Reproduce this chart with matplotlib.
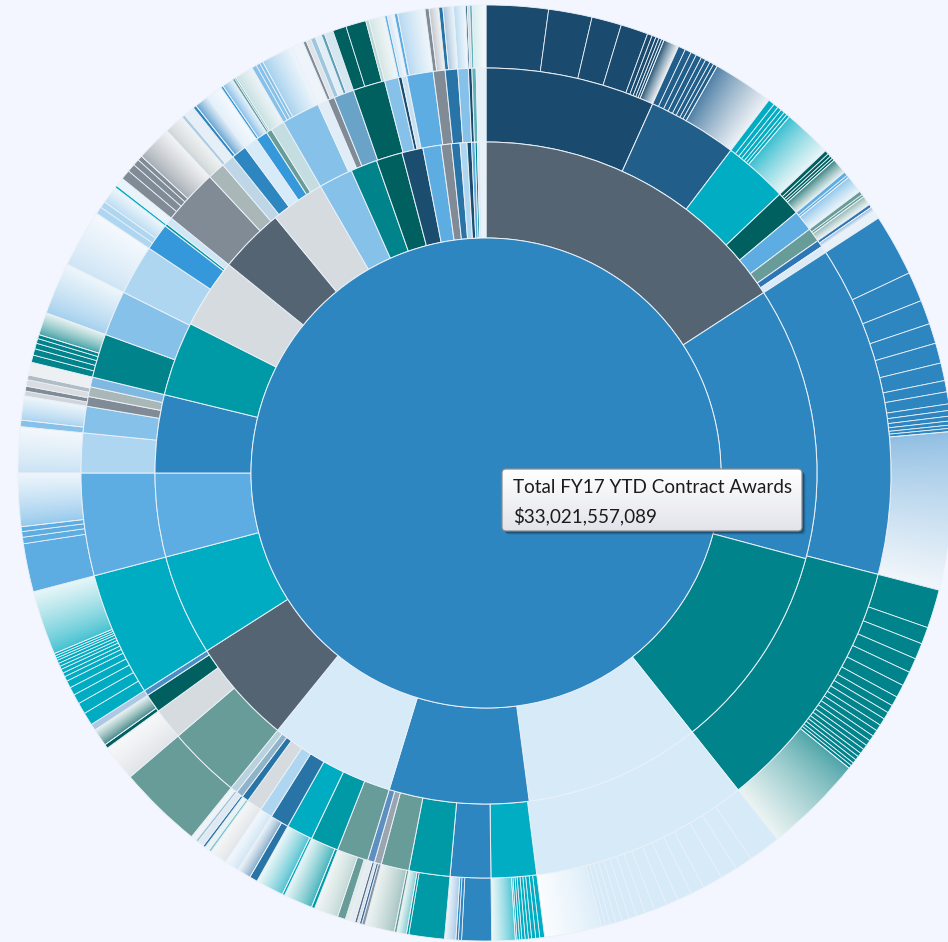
# Sunburst of FY17 YTD contract awards (agency -> office -> vendor)

import numpy as np
import matplotlib
matplotlib.use('Agg')
import matplotlib.pyplot as plt
from matplotlib.patches import FancyBboxPatch
from matplotlib.colors import LinearSegmentedColormap, to_rgb

# ---- data (shares are in 1/360ths of the total) ----
total_label = 'Total FY17 YTD Contract Awards'
total_value = '$33,021,557,089'
root_color = '#2e86c1'

# ring 1: agencies, clockwise from 12 o'clock
agency_color = ['#546473', '#2e86c1', '#00838a', '#d6eaf8', '#2e86c1', '#d6eaf8',
                '#546473', '#00acc1', '#5dade2', '#2e86c1', '#0099a6', '#d5dbdf',
                '#546473', '#d5dbdf', '#85c1e9', '#00838a', '#005f5f', '#1a4d6e',
                '#5dade2', '#808b96', '#2874a6', '#aed6f1', '#1a4d6e', '#5dade2',
                '#00838a', '#d6eaf8', '#e8f1f8']
agency_share = [57, 48, 36.5, 31, 24.5, 22,
                18.5, 17.8, 14.7, 13.7, 13.1, 12.2,
                11.5, 9.5, 6, 4.7, 4.6, 3.7,
                3.2, 1.8, 1.5, 1.2, 0.8, 0.6,
                0.4, 0.5, 1.0]

# ring 2: offices
offices = [
    ('#1a4b6e', 24.3), ('#215e8a', 12.9), ('#00adc2', 9.3), ('#005f5f', 3.5),
    ('#5dade2', 3.0), ('#679c98', 2.0), ('#2e75b6', 1.0), ('#dceaf5', 1.0),
    ('#2e86c1', 47.5), ('#00838a', 37.0), ('#d6eaf8', 31.3), ('#00adc2', 6.5),
    ('#2e86c1', 5.8), ('#0099a6', 5.9), ('#679c98', 4.0), ('#9aa5b0', 1.0),
    ('#5d8fc0', 1.0), ('#679c98', 4.5), ('#0099a6', 4.0), ('#00acc1', 3.8),
    ('#2874a6', 2.7), ('#aed6f1', 1.8), ('#d5dbdf', 2.2), ('#2874a6', 1.0),
    ('#8fb3c8', 1.0), ('#b8d3de', 1.0), ('#679c98', 10.5), ('#d5dbdf', 4.5),
    ('#005f5f', 2.7), ('#4a8fc4', 0.8), ('#00acc1', 17.8), ('#5dade2', 14.7),
    ('#aed6f1', 5.7), ('#85c1e9', 3.8), ('#808b96', 1.4), ('#aab7b8', 1.4),
    ('#7fb8e0', 1.4), ('#00838a', 6.3), ('#85c1e9', 6.5), ('#aed6f1', 7.2),
    ('#3498db', 3.9), ('#0099a6', 0.4), ('#cfe6f5', 1.0), ('#808b96', 8.0),
    ('#aab7b8', 2.5), ('#bfd6e6', 1.8), ('#2e86c1', 2.2), ('#d6eaf8', 2.0),
    ('#3498db', 1.7), ('#679c98', 0.8), ('#c3dde0', 2.0), ('#85c1e9', 5.5),
    ('#e0ecf6', 1.5), ('#808b96', 1.0), ('#6aa3c8', 2.9), ('#005f5f', 4.6),
    ('#85c1e9', 2.0), ('#1a4b6e', 0.5), ('#c7e0f0', 0.7), ('#5dade2', 3.8),
    ('#808b96', 1.7), ('#2874a6', 1.8), ('#85c1e9', 1.5), ('#1a4b6e', 0.5),
    ('#5fb3b8', 0.6), ('#e6f0f7', 1.4),
]

# ring 3: vendors. A pair of colours marks a run of tiny vendors that reads
# as a band fading towards white.
vendors = [
    *[('#1a4b6e', w) for w in (7.7, 5.4, 3.7, 3.4, 0.6, 0.5, 0.4, 0.35, 0.3)],
    (('#1a4b6e', '#eef2f5'), 1.95),
    *[('#215e8a', w) for w in (0.9, 0.8, 0.7, 0.7, 0.6, 0.6, 0.5, 0.5)],
    (('#4a7ca3', '#eef2f6'), 7.6),
    *[('#00adc2', w) for w in (0.8, 0.6, 0.5, 0.5, 0.4, 0.4)],
    (('#33bdcf', '#e8f6f8'), 6.1),
    *[('#005f5f', w) for w in (0.5, 0.4, 0.35, 0.3)],
    (('#337f7f', '#e6f0f0'), 1.95),
    ('#5dade2', 0.5), ('#5dade2', 0.3), (('#8ec6ea', '#edf5fb'), 2.2),
    ('#679c98', 0.5), ('#679c98', 0.3), (('#8fb5b2', '#eef4f3'), 1.2),
    ('#2e75b6', 0.4), (('#86b2d8', '#eef4fa'), 0.6),
    ('#e8f1f8', 1.0),
    # big blue office on the right
    *[('#2e86c1', w) for w in (7.7, 3.7, 3.0, 2.5, 2.5, 2.2, 1.4, 1.5,
                               0.8, 0.7, 0.6, 0.5, 0.4, 0.4)],
    (('#8dbde2', '#f1f6fb'), 19.6),
    # teal office
    *[('#00838a', w) for w in (4.8, 2.1, 2.0, 1.8, 1.8, 1.6, 1.2,
                               1.0, 0.9, 0.9, 0.8, 0.8, 0.7, 0.7,
                               0.6, 0.6, 0.5, 0.5, 0.5, 0.4, 0.4)],
    (('#4aa3a7', '#ecf4f3'), 12.4),
    # pale office at the bottom right
    *[('#d6eaf8', w) for w in (4.0, 2.2, 2.1, 2.5, 1.7, 1.8, 1.5, 1.6,
                               1.2, 1.1, 1.0, 0.9, 0.8, 0.7, 0.6, 0.5)],
    (('#dcedf9', '#fbfdff'), 7.1),
    *[('#00adc2', w) for w in (0.6, 0.5, 0.5, 0.4, 0.4, 0.4, 0.3, 0.3, 0.2)],
    (('#4cc4d3', '#eef8f9'), 2.9),
    ('#2e86c1', 3.7), ('#2e86c1', 0.4), ('#2e86c1', 0.3), (('#a3c8e6', '#eef4fa'), 1.4),
    ('#0099a6', 4.4), ('#0099a6', 0.3), (('#7fc9cf', '#eef6f6'), 1.2),
    ('#679c98', 0.3), (('#a4c4c1', '#eef4f3'), 3.7),
    ('#8a96a3', 0.4), ('#3d6f9e', 0.3), ('#d9e2ea', 0.3), ('#5b6d80', 0.3), ('#e4ecf2', 0.7),
    ('#e1ecea', 0.5), ('#679c98', 1.0), (('#c0d8d5', '#f2f6f5'), 3.0),
    ('#0099a6', 0.4), (('#3fb2bb', '#eaf5f6'), 3.6),
    ('#00acc1', 0.3), (('#4fc0cf', '#eef8f9'), 3.5),
    ('#2874a6', 1.0), (('#7fa8c8', '#eef3f8'), 1.7),
    (('#cfe5f5', '#f3f8fc'), 1.8),
    (('#e2e6e9', '#f5f6f7'), 2.2),
    ('#7fc6cb', 0.3), ('#e8f2f4', 0.6), ('#2874a6', 0.3), ('#dfe9f2', 0.8),
    ('#9cc0d6', 0.3), ('#eef3f6', 0.7),
    ('#679c98', 10.5),
    (('#e0e4e8', '#f7f8f9'), 4.5),
    ('#005f5f', 0.5), (('#3f8585', '#eaf2f2'), 2.2),
    ('#aec8e3', 0.8),
    # left side
    *[('#00acc1', w) for w in (1.6, 1.4, 1.2, 1.0, 0.9,
                               0.6, 0.5, 0.5, 0.4, 0.4, 0.4, 0.3, 0.3, 0.3)],
    (('#40c0d0', '#e8f6f8'), 8.0),
    *[('#5dade2', w) for w in (6.0, 0.8, 0.7, 0.6)],
    (('#93c8ec', '#eff6fc'), 6.6),
    (('#c8e2f4', '#f4f8fc'), 5.7),
    ('#85c1e9', 0.8), (('#a7d2ef', '#eff6fb'), 3.0),
    ('#cfd5da', 0.6), ('#808b96', 0.6), ('#d9dde1', 0.8), ('#b2bcc4', 0.6), ('#edf0f3', 1.6),
    *[('#00838a', w) for w in (0.9, 0.8, 0.7, 0.6, 0.5)],
    (('#3f9fa4', '#e6f1f0'), 2.8),
    (('#a2cfee', '#eef6fb'), 6.5),
    (('#cde4f5', '#f5f9fd'), 7.2),
    ('#aed6f1', 0.9), ('#aed6f1', 0.8), (('#b9dbf3', '#eef6fb'), 2.2),
    ('#00acc1', 0.3), ('#eaf3f9', 1.1),
    *[('#808b96', w) for w in (1.2, 1.0, 0.8, 0.6)],
    (('#a3abb3', '#f2f3f5'), 4.4),
    (('#cdd4d5', '#f1f3f3'), 2.5),
    ('#a9cbe3', 0.4), ('#e6eff6', 1.4),
    ('#2e86c1', 0.4), (('#5b9fd0', '#e6eff8'), 1.8),
    (('#e2f0fa', '#f5f9fd'), 2.0),
    ('#3498db', 0.3), (('#7fbbe6', '#e6f1fa'), 1.4),
    ('#679c98', 0.3), ('#5fb3b8', 0.2), (('#c6e0e0', '#eef4f7'), 2.3),
    # top left, back towards 12 o'clock
    ('#85c1e9', 0.6), ('#85c1e9', 0.5), ('#85c1e9', 0.4),
    (('#a3d0ee', '#eff6fb'), 4.0),
    ('#eef4fa', 1.5),
    ('#808b96', 0.4), ('#dfe3e7', 0.6),
    ('#9fc6df', 0.6), ('#e2eef6', 0.8), ('#5d9fb8', 0.4), ('#d5e6ee', 1.1),
    ('#005f5f', 1.7), ('#005f5f', 2.5), ('#b9d3d1', 0.4),
    (('#d3e5e3', '#f1f6f7'), 2.0),
    ('#5dade2', 0.3), (('#cfe5f5', '#f2f8fc'), 0.9),
    ('#5dade2', 0.4), (('#b3d8f1', '#f0f6fb'), 3.4),
    ('#808b96', 0.5), (('#bfc5cb', '#f0f1f3'), 1.2),
    ('#2874a6', 0.5), (('#a4c2dc', '#edf3f8'), 1.3),
    (('#b6daf2', '#f2f8fc'), 1.5),
    ('#1a4b6e', 0.2), ('#d4dde6', 0.3),
    ('#5fb3b8', 0.3), (('#d5ecee', '#f7fafc'), 1.7),
]

office_color = [c for c, v in offices]
office_share = [v for c, v in offices]
vendor_color = [c if isinstance(c, str) else c[0] for c, v in vendors]
vendor_share = [v for c, v in vendors]

# ---- layout (pixels) ----
W, H = 948, 942
cx, cy = 486, H - 473
r_root, r1, r2, r3 = 235, 331, 405, 468
edge = '#eaf1f8'
bg = '#f3f6fe'

fig = plt.figure(figsize=(W / 100, H / 100), dpi=100, facecolor=bg)
ax = fig.add_axes([0, 0, 1, 1])
ax.set_facecolor(bg)


def fade_wedge(ax, wedge, c0, c1):
    """Fill a wedge with a clockwise fade from c0 to c1."""
    ext = wedge.get_path().get_extents()
    xs = np.arange(np.floor(ext.x0), np.ceil(ext.x1)) + 0.5
    ys = np.arange(np.floor(ext.y0), np.ceil(ext.y1)) + 0.5
    X, Y = np.meshgrid(xs, ys)
    t1, t2 = wedge.theta1, wedge.theta2
    phi = np.degrees(np.arctan2(Y - cy, X - cx))
    phi = (phi - t1) % 360 + t1
    t = np.clip((t2 - phi) / (t2 - t1), 0, 1) ** 0.8
    a, b = np.array(to_rgb(c0)), np.array(to_rgb(c1))
    rgb = (1 - t)[..., None] * a + t[..., None] * b
    im = ax.imshow(rgb, origin='lower', aspect='auto', interpolation='nearest',
                   extent=(xs[0] - 0.5, xs[-1] + 0.5, ys[0] - 0.5, ys[-1] + 0.5),
                   zorder=0.9)
    im.set_clip_path(wedge)
    wedge.set_facecolor('none')


common = dict(center=(cx, cy), startangle=90, counterclock=False)
vendor_wedges, _ = ax.pie(vendor_share, colors=vendor_color, radius=r3,
                          wedgeprops=dict(width=r3 - r2, edgecolor=edge, linewidth=0.6),
                          **common)
for wdg, (c, v) in zip(vendor_wedges, vendors):
    if not isinstance(c, str):
        fade_wedge(ax, wdg, c[0], c[1])

ax.pie(office_share, colors=office_color, radius=r2,
       wedgeprops=dict(width=r2 - r1, edgecolor=edge, linewidth=0.7), **common)
ax.pie(agency_share, colors=agency_color, radius=r1,
       wedgeprops=dict(width=r1 - r_root, edgecolor=edge, linewidth=0.7), **common)
ax.pie([1], colors=[root_color], radius=r_root,
       wedgeprops=dict(edgecolor=edge, linewidth=0.7), **common)

# tooltip
bx, by, bw, bh = 502, H - 531, 300, 62
for i, a in enumerate([0.38, 0.22, 0.10]):
    ax.add_patch(FancyBboxPatch((bx + 2 + i, by - 2 - i), bw, bh,
                                boxstyle='round,pad=0,rounding_size=4',
                                fc='#0d2a45', ec='none', alpha=a, zorder=4))
box = FancyBboxPatch((bx, by), bw, bh, boxstyle='round,pad=0,rounding_size=4',
                     fc='none', ec='#8c8c8c', lw=0.9, zorder=6)
ax.add_patch(box)
grad_cmap = LinearSegmentedColormap.from_list('tip', ['#ffffff', '#e3e4eb'])
im = ax.imshow(np.linspace(0, 1, 64)[:, None], cmap=grad_cmap, aspect='auto',
               extent=(bx, bx + bw, by, by + bh), origin='upper', zorder=5)
im.set_clip_path(box)

ax.text(513, H - 493, total_label, fontsize=13.6, family='Lato', color='#1c1c1c',
        va='baseline', zorder=7)
ax.text(513, H - 522, total_value, fontsize=13.6, family='Lato', color='#1c1c1c',
        va='baseline', zorder=7)

ax.set_xlim(0, W)
ax.set_ylim(0, H)
ax.set_aspect('auto')
ax.axis('off')

fig.savefig('out.png', dpi=100, facecolor=bg)
